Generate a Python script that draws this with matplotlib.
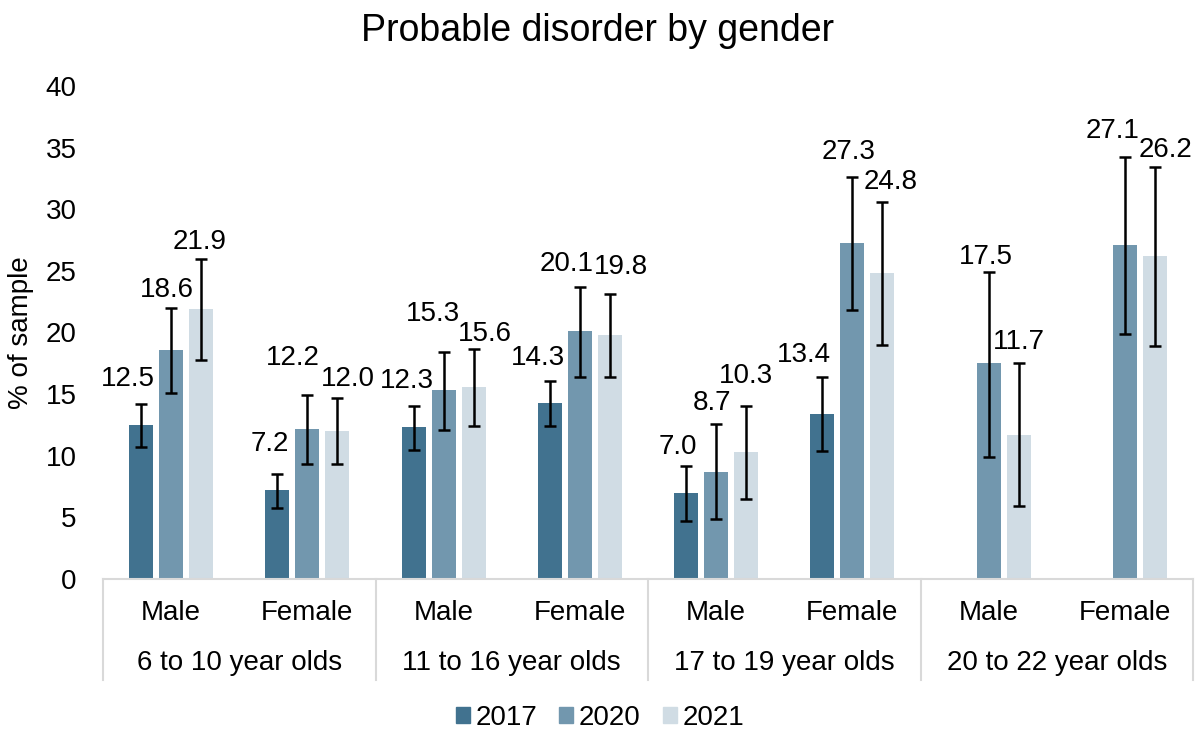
import numpy as np
import matplotlib
matplotlib.use("Agg")
import matplotlib.pyplot as plt
from matplotlib.patches import Patch
from matplotlib.transforms import blended_transform_factory

plt.rcParams["font.family"] = ["Liberation Sans", "DejaVu Sans"]

# ---- data ----
groups = ["6 to 10 year olds", "11 to 16 year olds", "17 to 19 year olds", "20 to 22 year olds"]
genders = ["Male", "Female"]
years = ["2017", "2020", "2021"]

v2017 = [12.5, 7.2, 12.3, 14.3, 7.0, 13.4, np.nan, np.nan]
v2020 = [18.6, 12.2, 15.3, 20.1, 8.7, 27.3, 17.5, 27.1]
v2021 = [21.9, 12.0, 15.6, 19.8, 10.3, 24.8, 11.7, 26.2]

lo2017 = [10.7, 5.8, 10.5, 12.4, 4.7, 10.4, np.nan, np.nan]
hi2017 = [14.2, 8.5, 14.0, 16.1, 9.2, 16.4, np.nan, np.nan]
lo2020 = [15.1, 9.3, 12.1, 16.4, 4.9, 21.8, 9.9, 19.9]
hi2020 = [22.0, 14.9, 18.4, 23.7, 12.6, 32.6, 24.9, 34.2]
lo2021 = [17.8, 9.3, 12.4, 16.4, 6.5, 19.0, 5.9, 18.9]
hi2021 = [26.0, 14.7, 18.7, 23.1, 14.0, 30.6, 17.5, 33.4]

# hand-placed data label nudges (pixels, relative to top of error bar)
dx2017 = [-13, -8, -7, -12, -8, -18, 0, 0]
dy2017 = [25, 30, 25, 23, 19, 22, 0, 0]
dx2020 = [-4, -15, -11, -13, -4, -4, -3, -12]
dy2020 = [18, 37, 38, 23, 21, 25, 15, 26]
dx2021 = [-1, 11, 11, 11, 0, 8, 0, 11]
dy2021 = [17, 19, 15, 27, 30, 20, 21, 17]

colors = ["#41728F", "#7297AE", "#D0DCE4"]

series = [
    (v2017, lo2017, hi2017, dx2017, dy2017),
    (v2020, lo2020, hi2020, dx2020, dy2020),
    (v2021, lo2021, hi2021, dx2021, dy2021),
]

fig = plt.figure(figsize=(11.95, 7.31), dpi=100)
ax = fig.add_axes([103 / 1195, 1 - 579 / 731, 1090 / 1195, 493 / 731])

x = np.arange(len(groups) * len(genders))
width = 0.176
step = 0.22

for k, (vals, lo, hi, dxs, dys) in enumerate(series):
    vals = np.array(vals, float)
    lo = np.array(lo, float)
    hi = np.array(hi, float)
    xs = x + (k - 1) * step
    ax.bar(xs, vals, width, color=colors[k], zorder=2)
    ax.errorbar(xs, vals, yerr=[vals - lo, hi - vals], fmt="none", ecolor="black",
                elinewidth=1.8, capsize=4.5, capthick=1.8, zorder=3)
    for xi, v, h, dx, dy in zip(xs, vals, hi, dxs, dys):
        if np.isnan(v):
            continue
        ax.annotate(f"{v:.1f}", xy=(xi, h), xytext=(dx, dy), textcoords="offset pixels",
                    ha="center", va="center", fontsize=20, color="black", zorder=4)

ax.set_xlim(-0.5, len(x) - 0.5)
ax.set_ylim(0, 40)
ax.set_yticks(range(0, 41, 5))
ax.tick_params(axis="y", length=0, labelsize=20, pad=19)
ax.set_xticks([])
for s in ["top", "right", "left"]:
    ax.spines[s].set_visible(False)
ax.spines["bottom"].set_color("#D9D9D9")
ax.spines["bottom"].set_linewidth(1.5)
ax.set_ylabel("% of sample", fontsize=20, labelpad=8)

# two-level category axis
trans = blended_transform_factory(ax.transData, ax.transAxes)
for i, xi in enumerate(x):
    ax.text(xi, -34 / 493, genders[i % 2], transform=trans, ha="center", va="center", fontsize=20)
for g, name in enumerate(groups):
    ax.text(2 * g + 0.5, -84 / 493, name, transform=trans, ha="center", va="center", fontsize=20)
for b in np.arange(-0.5, len(x), 2):
    ax.plot([b, b], [0, -101 / 493], transform=trans, color="#D9D9D9", lw=1.5, clip_on=False)

fig.suptitle("Probable disorder by gender", y=1 - 31 / 731, va="center", fontsize=27)

handles = [Patch(color=c) for c in colors]
fig.legend(handles, years, loc="center", bbox_to_anchor=(600 / 1195, 1 - 718 / 731), ncol=3,
           frameon=False, fontsize=20, handlelength=0.5, handleheight=0.5,
           handletextpad=0.2, columnspacing=0.8)

fig.savefig("out.png", dpi=100)
